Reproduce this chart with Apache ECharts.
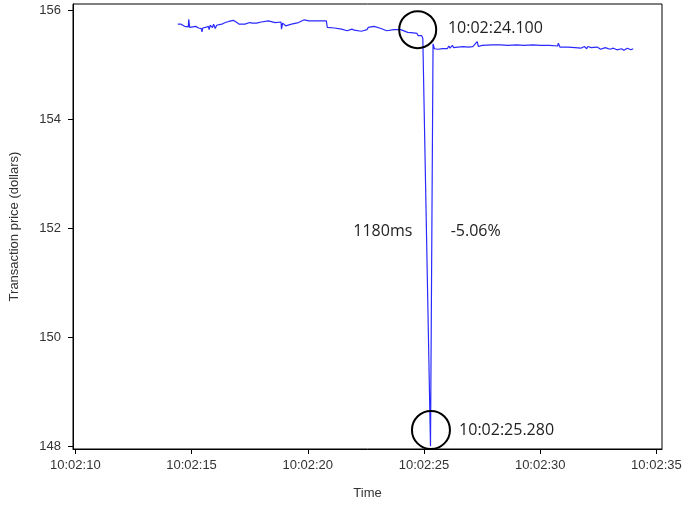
<!DOCTYPE html>
<html>
<head>
<meta charset="utf-8">
<script src="https://cdn.jsdelivr.net/npm/echarts/dist/echarts.min.js"></script>
<style>
html,body{margin:0;padding:0;background:#fff;}
#chart{width:685px;height:505px;}
</style>
</head>
<body>
<div id="chart"></div>
<script>
// Seconds after 10:02:00
const times = [
  14.41, 14.55, 14.70, 14.86, 14.88, 14.92, 15.05, 15.18, 15.30, 15.42,
  15.45, 15.48, 15.60, 15.72, 15.76, 15.80, 15.90, 15.95, 16.02, 16.08,
  16.15, 16.30, 16.45, 16.60, 16.80, 16.95, 17.05, 17.30, 17.50, 17.58,
  17.62, 17.80, 18.00, 18.30, 18.60, 18.85, 18.87, 18.92, 19.05, 19.30,
  19.60, 19.85, 20.05, 20.40, 20.80, 20.84, 21.15, 21.45, 21.70, 21.90,
  22.00, 22.30, 22.55, 22.60, 22.85, 23.15, 23.40, 23.45, 23.70, 24.00,
  24.30, 24.55, 24.70, 24.75, 24.90, 24.95, 25.00, 25.28, 25.39, 25.45,
  25.60, 25.80, 26.00, 26.07, 26.12, 26.22, 26.28, 26.45, 26.70, 26.90,
  27.10, 27.29, 27.34, 27.50, 27.90, 28.30, 28.60, 29.00, 29.30, 29.70,
  30.00, 30.40, 30.75, 30.78, 30.85, 31.20, 31.50, 31.75, 31.90, 32.00,
  32.05, 32.20, 32.45, 32.60, 32.80, 33.00, 33.15, 33.30, 33.50, 33.60,
  33.75, 33.90, 34.00
];
const prices = [
  155.74, 155.74, 155.70, 155.69, 155.83, 155.68, 155.69, 155.70, 155.67, 155.66,
  155.60, 155.67, 155.68, 155.70, 155.64, 155.72, 155.68, 155.74, 155.66, 155.72,
  155.70, 155.74, 155.77, 155.79, 155.81, 155.77, 155.74, 155.74, 155.77, 155.80,
  155.76, 155.76, 155.78, 155.80, 155.77, 155.78, 155.65, 155.76, 155.71, 155.74,
  155.77, 155.82, 155.80, 155.80, 155.80, 155.68, 155.67, 155.65, 155.62, 155.65,
  155.63, 155.61, 155.64, 155.68, 155.70, 155.66, 155.62, 155.65, 155.64, 155.64,
  155.59, 155.58, 155.57, 155.53, 155.53, 155.48, 155.48, 148.00, 155.38, 155.29,
  155.28, 155.29, 155.29, 155.34, 155.30, 155.35, 155.31, 155.32, 155.33, 155.32,
  155.33, 155.42, 155.33, 155.35, 155.36, 155.36, 155.35, 155.36, 155.35, 155.36,
  155.35, 155.35, 155.34, 155.39, 155.32, 155.32, 155.31, 155.30, 155.33, 155.29,
  155.33, 155.31, 155.32, 155.28, 155.31, 155.28, 155.30, 155.27, 155.29, 155.26,
  155.30, 155.27, 155.29
];
const xTicks = [10, 15, 20, 25, 30, 35];
const yTicks = [148, 150, 152, 154, 156];

// Annotations: [time, price]
const circleTop = [24.73, 155.64];
const circleBottom = [25.30, 148.30];
const texts = [
  { label: '10:02:24.100', at: [26.03, 155.67] },
  { label: '10:02:25.280', at: [26.51, 148.29] },
  { label: '1180ms', at: [21.96, 151.94] },
  { label: '-5.06%', at: [26.15, 151.94] }
];

const seriesData = times.map((t, i) => [t, prices[i]]);

const textStyleAxis = { fontFamily: 'Liberation Sans, Arial, sans-serif', fontSize: 13, color: '#333' };

const markData = [
  { coord: circleTop, symbol: 'circle', symbolSize: 37,
    itemStyle: { color: 'rgba(0,0,0,0)', borderColor: '#000', borderWidth: 2 }, label: { show: false } },
  { coord: circleBottom, symbol: 'circle', symbolSize: 38,
    itemStyle: { color: 'rgba(0,0,0,0)', borderColor: '#000', borderWidth: 2 }, label: { show: false } }
].concat(texts.map(o => ({
  coord: o.at, symbol: 'circle', symbolSize: 0,
  itemStyle: { color: 'rgba(0,0,0,0)' },
  label: { show: true, formatter: o.label, position: 'inside', align: 'left', verticalAlign: 'middle',
    color: '#222', fontSize: 16, fontFamily: 'Open Sans, sans-serif' }
})));

const chart = echarts.init(document.getElementById('chart'), null, { renderer: 'canvas' });
chart.setOption({
  animation: false,
  backgroundColor: '#fff',
  grid: { left: 70, right: 23, top: 4, bottom: 53, show: true, borderColor: '#000', borderWidth: 1 },
  xAxis: {
    type: 'value', min: 9.9, max: 35.24,
    name: 'Time', nameLocation: 'middle', nameGap: 38,
    nameTextStyle: textStyleAxis,
    axisLine: { show: true, lineStyle: { color: '#000', width: 1 } },
    axisTick: { show: true, length: 5, lineStyle: { color: '#000' }, customValues: xTicks },
    axisLabel: Object.assign({ customValues: xTicks, margin: 10,
      formatter: v => '10:02:' + String(Math.round(v)).padStart(2, '0') }, textStyleAxis),
    splitLine: { show: false }
  },
  yAxis: {
    type: 'value', min: 147.95, max: 156.11,
    name: 'Transaction price (dollars)', nameLocation: 'middle', nameGap: 52,
    nameTextStyle: textStyleAxis,
    axisLine: { show: true, lineStyle: { color: '#000', width: 1 } },
    axisTick: { show: true, length: 5, lineStyle: { color: '#000' }, customValues: yTicks },
    axisLabel: Object.assign({ customValues: yTicks, margin: 12 }, textStyleAxis),
    splitLine: { show: false }
  },
  series: [{
    type: 'line',
    data: seriesData,
    showSymbol: false,
    symbol: 'none',
    lineStyle: { color: '#2a2aff', width: 1.2 },
    markPoint: { silent: true, data: markData }
  }]
});
</script>
</body>
</html>
